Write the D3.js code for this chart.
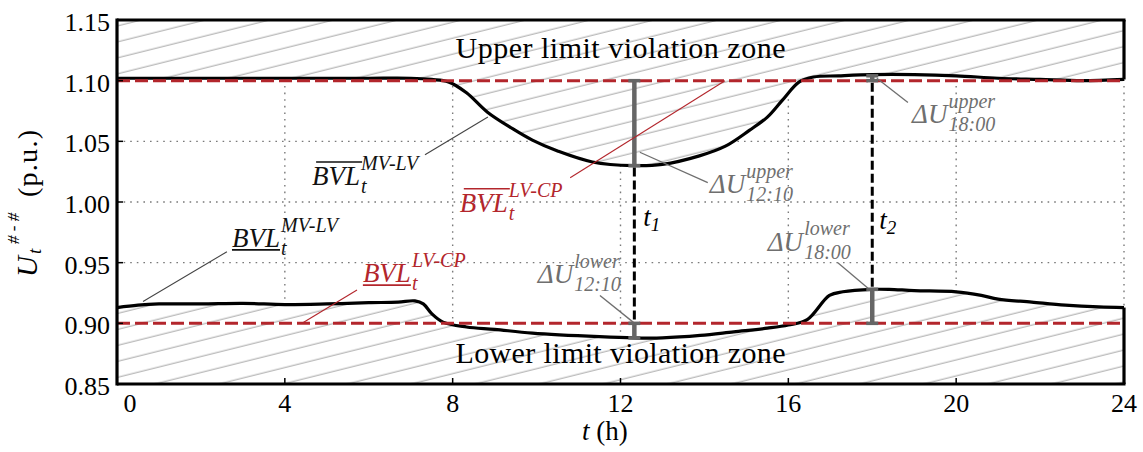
<!DOCTYPE html>
<html><head><meta charset="utf-8">
<script src="https://cdn.jsdelivr.net/npm/d3@7"></script>
<style>
body{margin:0;background:#fff}
svg{display:block}
</style>
</head><body>
<svg id="chart" width="1143" height="452"></svg>
<script>
// ---------------- data ----------------
const upperT = [0, 1, 2, 3, 4, 5, 6, 7, 7.5, 7.9, 8.33, 8.83, 9.4, 9.9, 10.5, 11.33, 12.3, 13.0, 13.88, 14.5, 15.07, 15.5, 15.86, 16.26, 16.6, 17.2, 18, 19, 20, 21, 22, 23, 24];
const upperV = [1.102, 1.102, 1.102, 1.102, 1.102, 1.102, 1.102, 1.102, 1.101, 1.099, 1.090, 1.074, 1.061, 1.051, 1.042, 1.033, 1.030, 1.031, 1.038, 1.046, 1.059, 1.070, 1.084, 1.099, 1.103, 1.104, 1.105, 1.105, 1.104, 1.102, 1.101, 1.100, 1.101];
const lowerT = [0, 0.5, 1, 2, 3, 4, 5, 6, 6.7, 7.1, 7.3, 7.5, 7.77, 8.33, 9.0, 9.9, 11.5, 12.3, 13.0, 13.9, 14.7, 15.5, 16.0, 16.45, 16.98, 17.3, 18, 18.4, 19, 20, 20.6, 21, 21.8, 22.6, 23.4, 24];
const lowerV = [0.913, 0.915, 0.916, 0.916, 0.9165, 0.9155, 0.916, 0.917, 0.9175, 0.9185, 0.916, 0.908, 0.901, 0.897, 0.895, 0.892, 0.889, 0.888, 0.888, 0.890, 0.893, 0.896, 0.8986, 0.903, 0.923, 0.926, 0.928, 0.928, 0.927, 0.926, 0.923, 0.920, 0.9175, 0.915, 0.9135, 0.913];
const limitVals = [0.90, 1.10];
const xTicks = [0, 4, 8, 12, 16, 20, 24];
const yTicks = [0.85, 0.90, 0.95, 1.00, 1.05, 1.10, 1.15];
const yTickLabels = ["0.85", "0.90", "0.95", "1.00", "1.05", "1.10", "1.15"];
const gridX = [4, 8, 12, 16, 20, 24];
const gridY = [0.95, 1.00, 1.05];
const markerT = [12.33, 18.0];
const markerNames = ["1", "2"];
const markerUpperV = [1.030, 1.104];
const markerLowerV = [0.888, 0.928];
const zoneTexts = ["Upper limit violation zone", "Lower limit violation zone"];

// ---------------- layout ----------------
const FONT = "Liberation Serif";
const svg = d3.select("#chart");
const x = d3.scaleLinear().domain([0, 24]).range([117, 1124]);
const y = d3.scaleLinear().domain([0.85, 1.15]).range([384, 20]);
const RED = "#b3262c", GRAY = "#6f6f6f", BAR = "#666";

const upperPts = upperT.map((t, i) => [t, upperV[i]]);
const lowerPts = lowerT.map((t, i) => [t, lowerV[i]]);

const defs = svg.append("defs");
const pat = defs.append("pattern").attr("id", "hatch").attr("patternUnits", "userSpaceOnUse")
  .attr("width", 20).attr("height", 15.5).attr("patternTransform", "rotate(-14)");
pat.append("rect").attr("width", 20).attr("height", 15.5).attr("fill", "#fff");
pat.append("line").attr("x1", 0).attr("x2", 20).attr("y1", 7).attr("y2", 7)
  .attr("stroke", "#8c8c8c").attr("stroke-width", 0.8);

// grid
const grid = svg.append("g").attr("stroke", "#7a7a7a").attr("stroke-width", 1.4).attr("stroke-dasharray", "1.6,5");
grid.selectAll(".gx").data(gridX).join("line")
  .attr("x1", d => x(d)).attr("x2", d => x(d)).attr("y1", y(1.15)).attr("y2", y(0.85));
grid.selectAll(".gy").data(gridY).join("line")
  .attr("x1", x(0)).attr("x2", x(24)).attr("y1", d => y(d)).attr("y2", d => y(d));

// hatched zones
const curve = d3.curveCatmullRom.alpha(0.5);
const upperArea = d3.area().x(d => x(d[0])).y0(y(1.15)).y1(d => y(d[1])).curve(curve);
const lowerArea = d3.area().x(d => x(d[0])).y0(y(0.85)).y1(d => y(d[1])).curve(curve);
svg.append("path").datum(upperPts).attr("d", upperArea).attr("fill", "url(#hatch)");
svg.append("path").datum(lowerPts).attr("d", lowerArea).attr("fill", "url(#hatch)");

// curves
const line = d3.line().x(d => x(d[0])).y(d => y(d[1])).curve(curve);
svg.selectAll(".curve").data([upperPts, lowerPts]).join("path")
  .attr("d", line).attr("fill", "none").attr("stroke", "#000").attr("stroke-width", 3.2);

// limits (red dashed)
svg.selectAll(".lim").data(limitVals).join("line")
  .attr("x1", x(0)).attr("x2", x(24)).attr("y1", d => y(d)).attr("y2", d => y(d))
  .attr("stroke", RED).attr("stroke-width", 3).attr("stroke-dasharray", "13,5");

// frame
const frame = svg.append("g").attr("stroke", "#000").attr("stroke-width", 3.2).attr("fill", "none");
frame.append("line").attr("x1", x(0)).attr("x2", x(0)).attr("y1", y(1.15) - 1.5).attr("y2", y(0.85) + 1.5);
frame.append("line").attr("x1", x(0)).attr("x2", x(24) + 1.5).attr("y1", y(1.15)).attr("y2", y(1.15));
frame.append("line").attr("x1", x(0)).attr("x2", x(24) + 1.5).attr("y1", y(0.85)).attr("y2", y(0.85));
frame.append("line").attr("x1", x(24)).attr("x2", x(24)).attr("y1", y(1.15)).attr("y2", y(upperV[upperV.length - 1]));
frame.append("line").attr("x1", x(24)).attr("x2", x(24)).attr("y1", y(lowerV[lowerV.length - 1])).attr("y2", y(0.85));

// ticks (inward)
const tk = svg.append("g").attr("stroke", "#000").attr("stroke-width", 1.5);
tk.selectAll(".tx").data(xTicks.slice(1, -1)).join("line")
  .attr("x1", d => x(d)).attr("x2", d => x(d)).attr("y1", y(0.85)).attr("y2", y(0.85) - 6);
tk.selectAll(".ty").data(yTicks.slice(1, -1)).join("line")
  .attr("x1", x(0)).attr("x2", x(0) + 6).attr("y1", d => y(d)).attr("y2", d => y(d));

// tick labels
svg.selectAll(".xl").data(xTicks).join("text").attr("font-family", FONT)
  .attr("x", d => x(d) + (d === 0 ? 13 : 0)).attr("y", y(0.85) + 28)
  .attr("text-anchor", "middle").attr("font-size", 26).text(d => d);
svg.selectAll(".yl").data(yTicks).join("text").attr("font-family", FONT)
  .attr("x", x(0) - 7).attr("y", (d) => y(d) + 11)
  .attr("text-anchor", "end").attr("font-size", 26).text((d, i) => yTickLabels[i]);

// axis titles
const xt = svg.append("text").attr("font-family", FONT).attr("x", 582).attr("y", 440).attr("font-size", 27);
xt.append("tspan").attr("font-style", "italic").text("t");
xt.append("tspan").text(" (h)");

const yt = svg.append("g").attr("transform", "translate(37,277) rotate(-90)");
yt.append("text").attr("font-family", FONT).attr("x", 0).attr("y", 0).attr("font-size", 29).attr("font-style", "italic").text("U");
yt.append("text").attr("font-family", FONT).attr("x", 23).attr("y", 4).attr("font-size", 19).attr("font-style", "italic").text("t");
yt.append("text").attr("font-family", FONT).attr("x", 33).attr("y", -18).attr("font-size", 17).attr("font-style", "italic").text("# - #");
yt.append("text").attr("font-family", FONT).attr("x", 80).attr("y", 0).attr("font-size", 28).attr("textLength", 67).text("(p.u.)");

// zone labels
svg.selectAll(".zone").data(zoneTexts).join("text").attr("font-family", FONT)
  .attr("x", x(12)).attr("y", (d, i) => i === 0 ? y(1.119) : y(0.867))
  .attr("text-anchor", "middle").attr("font-size", 30).attr("textLength", 330).text(d => d);

// marker lines
const mk = svg.append("g");
markerT.forEach((t, i) => {
  const up = markerUpperV[i], lo = markerLowerV[i];
  const yTop = i === 0 ? y(up) : y(1.10);
  const yBot = i === 0 ? y(0.90) : y(lo);
  mk.append("line").attr("x1", x(t)).attr("x2", x(t)).attr("y1", yTop + 2).attr("y2", yBot - 2)
    .attr("stroke", "#000").attr("stroke-width", 3).attr("stroke-dasharray", "9,4");
  [[1.10, up], [0.90, lo]].forEach(([a, b]) => {
    mk.append("line").attr("x1", x(t)).attr("x2", x(t)).attr("y1", y(a)).attr("y2", y(b))
      .attr("stroke", BAR).attr("stroke-width", 4.5);
    [a, b].forEach(v => mk.append("line").attr("x1", x(t) - 6).attr("x2", x(t) + 6)
      .attr("y1", y(v)).attr("y2", y(v)).attr("stroke", BAR).attr("stroke-width", 3.5));
  });
  const tl = svg.append("text").attr("font-family", FONT).attr("x", x(t) + (i === 0 ? 9 : 7)).attr("y", i === 0 ? y(0.9805) : y(0.978))
    .attr("font-style", "italic").attr("font-size", 27);
  tl.append("tspan").text("t");
  tl.append("tspan").attr("font-size", 19).attr("dy", 5).text(markerNames[i]);
});

// annotation leaders
const leaders = [
  {c: "#444", w: 1.1, p: [[7.34, 1.039], [8.84, 1.070]]},
  {c: RED, w: 1.1, p: [[10.8, 1.020], [14.49, 1.10]]},
  {c: "#444", w: 1.1, p: [[2.62, 0.959], [0.62, 0.918]]},
  {c: RED, w: 1.1, p: [[5.72, 0.9275], [4.41, 0.90]]},
  {c: GRAY, w: 1.3, p: [[12.46, 1.041], [14.08, 1.016]]},
  {c: GRAY, w: 1.3, p: [[18.11, 1.102], [18.85, 1.082]]},
  {c: GRAY, w: 1.3, p: [[11.51, 0.923], [12.3, 0.901]]},
  {c: GRAY, w: 1.3, p: [[17.18, 0.950], [17.9, 0.929]]}
];
svg.selectAll(".lead").data(leaders).join("line")
  .attr("x1", d => x(d.p[0][0])).attr("y1", d => y(d.p[0][1]))
  .attr("x2", d => x(d.p[1][0])).attr("y2", d => y(d.p[1][1]))
  .attr("stroke", d => d.c).attr("stroke-width", d => d.w);

// rich labels
function rich(t, v, main, sup, sub, color, o) {
  const g = svg.append("g").attr("fill", color);
  const x0 = x(t), y0 = y(v);
  const m = g.append("text").attr("font-family", FONT).attr("x", x0).attr("y", y0).attr("font-size", o.fm)
    .attr("font-style", "italic").text(main);
  const w = m.node().getComputedTextLength();
  const sx = x0 + w + (o.gap || 1);
  g.append("text").attr("font-family", FONT).attr("x", sx).attr("y", y0 + o.supDy).attr("font-size", o.fs)
    .attr("font-style", "italic").text(sup);
  g.append("text").attr("font-family", FONT).attr("x", sx - (o.subBack || 0)).attr("y", y0 + o.subDy).attr("font-size", o.fs)
    .attr("font-style", "italic").text(sub);
  if (o.deco) {
    const dy = o.deco === "over" ? -23 : 3;
    g.append("line").attr("x1", x0 + (o.deco === "over" ? 4 : 0)).attr("x2", x0 + w + (o.deco === "over" ? 2 : 0))
      .attr("y1", y0 + dy).attr("y2", y0 + dy).attr("stroke", color).attr("stroke-width", 1.6);
  }
}
const bvlOpt = {fm: 27, fs: 20, supDy: -15, subDy: 8, gap: 1, subBack: 0};
rich(4.65, 1.014, "BVL", "MV-LV", "t", "#111", Object.assign({deco: "over"}, bvlOpt));
rich(8.17, 0.992, "BVL", "LV-CP", "t", RED, Object.assign({deco: "over"}, bvlOpt));
rich(2.74, 0.963, "BVL", "MV-LV", "t", "#111", Object.assign({deco: "under"}, bvlOpt));
rich(5.86, 0.934, "BVL", "LV-CP", "t", RED, Object.assign({deco: "under"}, bvlOpt));
const duOpt = {fm: 27, fs: 20, supDy: -15.5, subDy: 8, gap: 1};
rich(14.13, 1.0074, "\u0394U", "upper", "12:10", GRAY, duOpt);
rich(18.95, 1.065, "\u0394U", "upper", "18:00", GRAY, duOpt);
rich(10.03, 0.933, "\u0394U", "lower", "12:10", GRAY, duOpt);
rich(15.51, 0.960, "\u0394U", "lower", "18:00", GRAY, duOpt);
</script>
</body></html>
